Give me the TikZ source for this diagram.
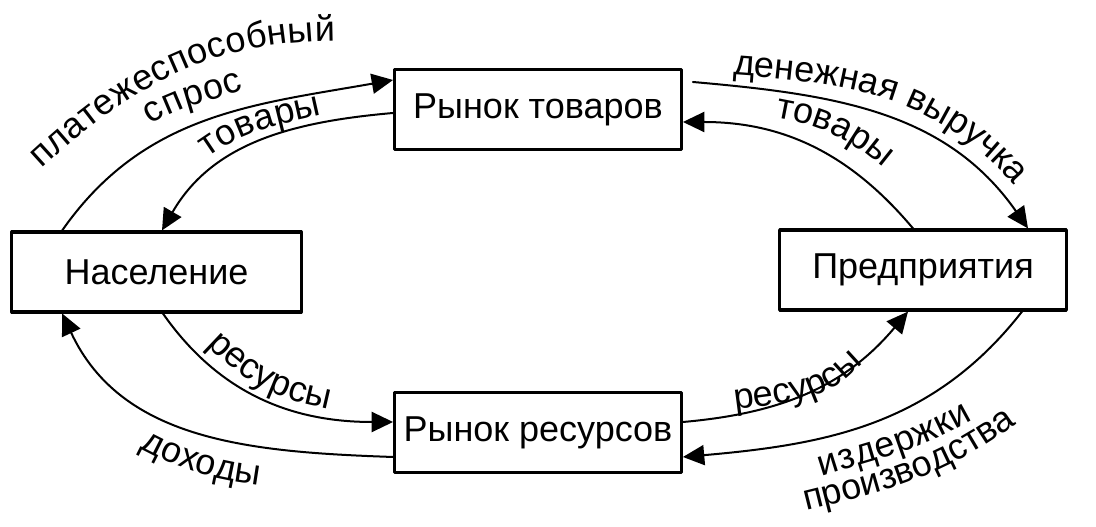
\documentclass[tikz,border=0pt]{standalone}
\usepackage{fontspec}
\setmainfont{Liberation Sans}
\usetikzlibrary{arrows.meta,calc,decorations.text}
\newcommand\lbl{\fontsize{27}{31}\selectfont}
\begin{document}
\begin{tikzpicture}[x=0.75pt, y=0.75pt, line join=round, line cap=round,
	>={Triangle[length=16pt,width=15pt]},
	box/.style={draw, line width=2.4pt, minimum width=215pt, minimum height=60pt, inner sep=0pt, font=\fontsize{27}{32}\selectfont},
	flow/.style={->, line width=1.5pt},
	lab/.style={decorate, decoration={text along path, text align=fit to path, text={|\lbl|#1}}}]
	\useasboundingbox (0,0) rectangle (1096,527);
	% markets and agents
	\node[box] (goods) at (538,417.5) {Рынок товаров};
	\node[box, minimum width=217pt] (pop) at (156.5,255) {Население};
	\node[box] (firms) at (923,257) {Предприятия};
	\node[box] (res) at (538,94.5) {Рынок ресурсов};
	% flows
	\draw[flow] ($(pop.north west)+(52,0)$) to[out=55,in=190] ($(goods.west)+(0,29.5)$);
	\draw[flow] ($(goods.west)+(0,-3.5)$) to[out=185,in=60] ($(pop.north)+(5.5,0)$);
	\draw[flow] ($(goods.east)+(10,27.5)$) to[out=-5,in=125] ($(firms.north)+(105,0)$);
	\draw[flow] ($(firms.north)+(-10,0)$) to[out=130,in=0] ($(goods.east)+(0,-12.5)$);
	\draw[flow] ($(pop.south)+(6.5,0)$) to[out=-55,in=180] ($(res.west)+(0,10.5)$);
	\draw[flow] ($(res.west)+(0,-24.5)$) to[out=178,in=-65] ($(pop.south west)+(52,0)$);
	\draw[flow] ($(res.east)+(0,10.5)$) to[out=5,in=230] ($(firms.south)+(-15,0)$);
	\draw[flow] ($(firms.south)+(99,0)$) to[out=232,in=5] ($(res.east)+(0,-24.5)$);
	% labels
	\path[lab=платежеспособный] (42,358) .. controls (116,426) and (196,486) .. (335,486);
	\path[lab=спрос] (151,402) to[out=34,in=200] (244,437);
	\path[lab=товары] (208,369) to[out=36,in=193] (322,412);
	\path[lab=денежная выручка] (733,452) to[out=-4,in=132] (1012,344);
	\path[lab=товары] (775,409) to[out=-10,in=140] (880,362);
	\path[lab=ресурсы] (207,182) to[out=-45,in=168] (323,119);
	\path[lab=доходы] (140,79) to[out=-28,in=172] (257,42);
	\path[lab=ресурсы] (735,117) to[out=8,in=228] (863,164);
	\path[lab=издержки] (822,50) to[out=18,in=210] (973,107);
	\path[lab=производства] (806,16) to[out=14,in=215] (1009,98);
\end{tikzpicture}
\end{document}
